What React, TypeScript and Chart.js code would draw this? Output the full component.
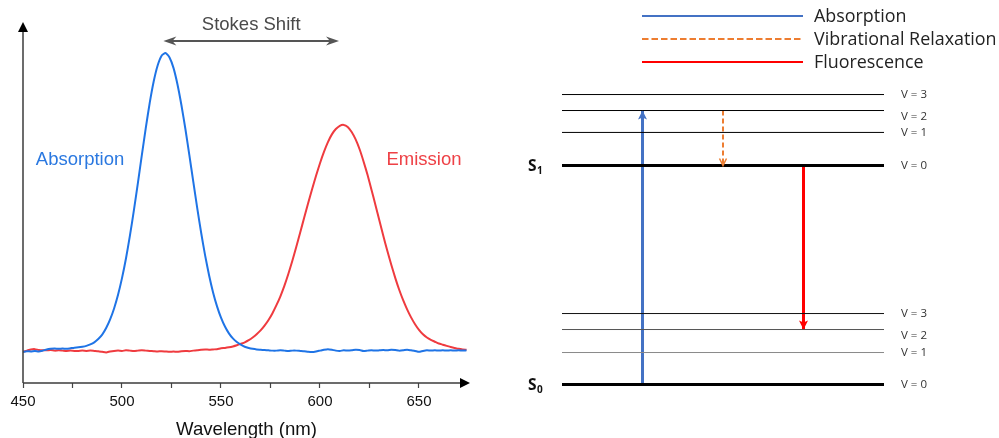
import React, { useEffect, useRef } from 'react';
import { Chart, registerables } from 'chart.js';

Chart.register(...registerables);

// ---------- Left panel: spectra ----------
const wavelengths = [
  450, 452, 454, 456, 458, 460, 462, 464, 466, 468, 470, 472, 474, 476, 478, 480, 482, 484, 486, 488,
  490, 492, 494, 496, 498, 500, 502, 504, 506, 508, 510, 512, 514, 516, 518, 520, 522, 524, 526, 528,
  530, 532, 534, 536, 538, 540, 542, 544, 546, 548, 550, 552, 554, 556, 558, 560, 562, 564, 566, 568,
  570, 572, 574, 576, 578, 580, 582, 584, 586, 588, 590, 592, 594, 596, 598, 600, 602, 604, 606, 608,
  610, 612, 614, 616, 618, 620, 622, 624, 626, 628, 630, 632, 634, 636, 638, 640, 642, 644, 646, 648,
  650, 652, 654, 656, 658, 660, 662, 664, 666, 668, 670, 672, 674,
];

const absorptionSpectrum = [
  -0.006, -0.004, -0.005, -0.003, -0.005, -0.002, 0.002, 0.004, 0.005, 0.004,
  0.005, 0.004, 0.006, 0.008, 0.009, 0.011, 0.014, 0.019, 0.026, 0.037,
  0.052, 0.074, 0.103, 0.140, 0.186, 0.242, 0.308, 0.385, 0.470, 0.561,
  0.655, 0.747, 0.832, 0.904, 0.958, 0.991, 1.000, 0.985, 0.950, 0.895,
  0.825, 0.745, 0.657, 0.567, 0.478, 0.394, 0.318, 0.251, 0.194, 0.147,
  0.109, 0.079, 0.056, 0.039, 0.027, 0.018, 0.011, 0.007, 0.004, 0.002,
  0.001, 0.000, -0.001, -0.002, -0.002, -0.001, -0.002, -0.003, -0.002, -0.002,
  -0.003, -0.004, -0.006, -0.007, -0.005, -0.002, 0.001, 0.003, 0.001, -0.002,
  -0.003, -0.001, -0.002, -0.001, 0.001, 0.000, -0.003, -0.002, -0.001, -0.002,
  -0.001, 0.000, -0.001, 0.001, 0.000, -0.002, -0.001, 0.001, -0.001, -0.003,
  -0.006, -0.003, -0.001, -0.002, -0.001, -0.002, -0.001, -0.002, -0.001, -0.002,
  -0.001, -0.002, -0.001,
];

const emissionSpectrum = [
  -0.006, -0.002, 0.002, 0.003, 0.000, -0.001, -0.001, 0.000, -0.002, -0.001,
  -0.002, -0.003, -0.002, -0.003, -0.003, -0.002, -0.003, -0.002, -0.003, -0.004,
  -0.006, -0.008, -0.005, -0.003, -0.002, -0.003, -0.001, -0.002, -0.003, -0.002,
  -0.001, -0.002, -0.003, -0.004, -0.005, -0.004, -0.005, -0.006, -0.005, -0.006,
  -0.004, -0.003, -0.004, -0.002, -0.001, 0.001, 0.002, 0.001, 0.002, 0.003,
  0.006, 0.007, 0.009, 0.012, 0.016, 0.021, 0.026, 0.033, 0.042, 0.053,
  0.066, 0.082, 0.101, 0.124, 0.151, 0.181, 0.216, 0.256, 0.300, 0.347,
  0.396, 0.445, 0.494, 0.541, 0.587, 0.629, 0.667, 0.700, 0.726, 0.744,
  0.755, 0.758, 0.751, 0.734, 0.709, 0.676, 0.635, 0.590, 0.540, 0.488,
  0.436, 0.384, 0.334, 0.287, 0.243, 0.203, 0.168, 0.137, 0.110, 0.087,
  0.068, 0.053, 0.042, 0.034, 0.028, 0.022, 0.018, 0.014, 0.010, 0.007,
  0.004, 0.002, 0.001,
];

const xRange = [450, 675.76];
const yRange = [-0.111, 1.1044];
const stokesRange = [520.9, 609.6];
const stokesLevel = 1.0404;
const stokesTextLevel = 1.096;
const curveLabels = [
  { text: 'Absorption', x: 478.8, y: 0.64, color: '#2a78e0' },
  { text: 'Emission', x: 652.5, y: 0.64, color: '#ee4146' },
];

// ---------- Right panel: Jablonski diagram ----------
const groundLevels = [0, 0.146, 0.251, 0.324];
const excitedLevels = [1, 1.151, 1.251, 1.324];
const vibLabels = ['V = 0', 'V = 1', 'V = 2', 'V = 3'];
const stateLabels = [
  { main: 'S', sub: '1', level: 1 },
  { main: 'S', sub: '0', level: 0 },
];
const transitionNames = ['Absorption', 'Vibrational Relaxation', 'Fluorescence'];
const transitionX = [0.25, 0.5, 0.75];
const transitionFrom = [0, 1.251, 1];
const transitionTo = [1.251, 1, 0.251];
const levelXRange = [0, 1];

const FONT_L = '"Liberation Sans", Arial, sans-serif';
const FONT_R = '"Open Sans", sans-serif';

function drawBarbHead(ctx: CanvasRenderingContext2D, tipX: number, tipY: number, dir: number, color: string) {
  const len = 13, half = 4.5, notch = 4;
  ctx.fillStyle = color;
  ctx.beginPath();
  ctx.moveTo(tipX, tipY);
  ctx.lineTo(tipX - dir * len, tipY - half);
  ctx.lineTo(tipX - dir * (len - notch), tipY);
  ctx.lineTo(tipX - dir * len, tipY + half);
  ctx.closePath();
  ctx.fill();
}

const leftDecor = {
  id: 'leftDecor',
  afterDatasetsDraw(chart: any) {
    const { ctx, chartArea, scales } = chart;
    const { left, right, top, bottom } = chartArea;
    const xs = scales.x, ys = scales.y;
    ctx.save();
    ctx.strokeStyle = '#3c3c3c';
    ctx.lineWidth = 1.5;
    ctx.beginPath();
    ctx.moveTo(left, bottom);
    ctx.lineTo(left, top + 8);
    ctx.moveTo(left, bottom);
    ctx.lineTo(right - 8, bottom);
    ctx.stroke();
    ctx.fillStyle = '#000';
    ctx.beginPath();
    ctx.moveTo(left, top);
    ctx.lineTo(left - 5, top + 10);
    ctx.lineTo(left + 5, top + 10);
    ctx.closePath();
    ctx.fill();
    ctx.beginPath();
    ctx.moveTo(right, bottom);
    ctx.lineTo(right - 10, bottom - 5);
    ctx.lineTo(right - 10, bottom + 5);
    ctx.closePath();
    ctx.fill();

    const x1 = xs.getPixelForValue(stokesRange[0]);
    const x2 = xs.getPixelForValue(stokesRange[1]);
    const ya = ys.getPixelForValue(stokesLevel);
    ctx.strokeStyle = '#555';
    ctx.lineWidth = 2;
    ctx.beginPath();
    ctx.moveTo(x1 + 8, ya);
    ctx.lineTo(x2 - 8, ya);
    ctx.stroke();
    drawBarbHead(ctx, x1, ya, -1, '#555');
    drawBarbHead(ctx, x2, ya, 1, '#555');

    ctx.fillStyle = '#4a4a4a';
    ctx.font = `18.5px ${FONT_L}`;
    ctx.textAlign = 'center';
    ctx.textBaseline = 'middle';
    ctx.fillText('Stokes Shift', (x1 + x2) / 2, ys.getPixelForValue(stokesTextLevel));

    for (const l of curveLabels) {
      ctx.fillStyle = l.color;
      ctx.fillText(l.text, xs.getPixelForValue(l.x), ys.getPixelForValue(l.y));
    }
    ctx.restore();
  },
};

const rightDecor = {
  id: 'rightDecor',
  afterDatasetsDraw(chart: any) {
    const { ctx, scales } = chart;
    const xs = scales.x, ys = scales.y;
    ctx.save();

    chart.data.datasets.forEach((ds: any, i: number) => {
      if (!ds.arrow) return;
      const meta = chart.getDatasetMeta(i);
      const pts = meta.data;
      const tip = pts[pts.length - 1];
      const prev = pts[pts.length - 2];
      const dir = tip.y > prev.y ? 1 : -1;
      const len = ds.arrow === 'open' ? 7 : 9;
      const half = ds.arrow === 'open' ? 3.5 : 4.5;
      ctx.setLineDash([]);
      if (ds.arrow === 'open') {
        ctx.strokeStyle = ds.borderColor;
        ctx.lineWidth = 1.5;
        ctx.beginPath();
        ctx.moveTo(tip.x - half, tip.y - dir * len);
        ctx.lineTo(tip.x, tip.y);
        ctx.lineTo(tip.x + half, tip.y - dir * len);
        ctx.stroke();
      } else {
        ctx.fillStyle = ds.borderColor;
        ctx.beginPath();
        ctx.moveTo(tip.x, tip.y);
        ctx.lineTo(tip.x - half, tip.y - dir * len);
        ctx.lineTo(tip.x, tip.y - dir * (len - 2));
        ctx.lineTo(tip.x + half, tip.y - dir * len);
        ctx.closePath();
        ctx.fill();
      }
    });

    const xr = xs.getPixelForValue(levelXRange[1]);
    ctx.font = `11.5px ${FONT_R}`;
    ctx.fillStyle = '#333';
    ctx.textAlign = 'left';
    ctx.textBaseline = 'middle';
    [groundLevels, excitedLevels].forEach((lv) => {
      lv.forEach((e, k) => {
        const off = k === 2 ? 6 : 0;
        ctx.fillText(vibLabels[k], xr + 17, ys.getPixelForValue(e) + off);
      });
    });

    for (const s of stateLabels) {
      const y = ys.getPixelForValue(s.level);
      ctx.fillStyle = '#111';
      ctx.font = `bold 15.5px ${FONT_R}`;
      ctx.fillText(s.main, 28, y + 1);
      ctx.font = `bold 10px ${FONT_R}`;
      ctx.fillText(s.sub, 37, y + 6);
    }

    const legendX = 142, legendW = 161, legendY0 = 16, legendStep = 23;
    chart.data.datasets.forEach((ds: any) => {
      if (!ds.arrow) return;
      const idx = transitionNames.indexOf(ds.label);
      const y = legendY0 + idx * legendStep;
      ctx.strokeStyle = ds.borderColor;
      ctx.lineWidth = 2;
      ctx.setLineDash(ds.borderDash ? [6.5, 3] : []);
      ctx.beginPath();
      ctx.moveTo(legendX, y);
      ctx.lineTo(legendX + legendW, y);
      ctx.stroke();
      ctx.setLineDash([]);
      ctx.fillStyle = '#222';
      ctx.font = `17.9px ${FONT_R}`;
      ctx.textBaseline = 'middle';
      ctx.fillText(ds.label, legendX + legendW + 11, y + 1);
    });
    ctx.restore();
  },
};

function SpectrumChart() {
  const ref = useRef<HTMLCanvasElement>(null);
  useEffect(() => {
    const chart = new Chart(ref.current!, {
      type: 'line',
      data: {
        datasets: [
          {
            label: 'Absorption',
            data: wavelengths.map((w, i) => ({ x: w, y: absorptionSpectrum[i] })),
            borderColor: '#1f74e6',
            borderWidth: 2,
            pointRadius: 0,
            tension: 0.2,
          },
          {
            label: 'Emission',
            data: wavelengths.map((w, i) => ({ x: w, y: emissionSpectrum[i] })),
            borderColor: '#ef3b3f',
            borderWidth: 2,
            pointRadius: 0,
            tension: 0.2,
          },
        ],
      },
      options: {
        responsive: false,
        animation: false,
        layout: { padding: { top: 22, left: 23, right: 30, bottom: 0 } },
        plugins: { legend: { display: false }, tooltip: { enabled: false } },
        scales: {
          x: {
            type: 'linear',
            min: xRange[0],
            max: xRange[1],
            afterFit: (s: any) => { s.height = 55; },
            afterBuildTicks: (s: any) => { s.ticks = s.ticks.filter((t: any) => t.value <= 660); },
            border: { display: false },
            grid: {
              drawOnChartArea: false,
              drawTicks: true,
              tickLength: 5,
              color: '#444',
              tickWidth: 1.2,
            },
            ticks: {
              stepSize: 25,
              includeBounds: false,
              autoSkip: false,
              maxRotation: 0,
              padding: 5,
              color: '#111',
              font: { family: FONT_L, size: 15 },
              callback: (v: any) => (Number(v) % 50 === 0 ? String(v) : ''),
            },
            title: {
              display: true,
              text: 'Wavelength (nm)',
              color: '#111',
              font: { family: FONT_L, size: 18.6 },
              padding: { top: 0, bottom: -3 },
            },
          },
          y: { type: 'linear', display: false, min: yRange[0], max: yRange[1] },
        },
      },
      plugins: [leftDecor],
    });
    return () => chart.destroy();
  }, []);
  return <canvas ref={ref} width={500} height={438} style={{ position: 'absolute', left: 0, top: 0 }} />;
}

function JablonskiChart() {
  const ref = useRef<HTMLCanvasElement>(null);
  useEffect(() => {
    const levelStyle = (isGround: boolean, k: number) => {
      if (k === 0) return { color: '#000', width: 3 };
      if (!isGround) return { color: '#000', width: 1 };
      return { color: ['#000', '#8a8a8a', '#555', '#111'][k], width: 1 };
    };
    const levelSets: any[] = [];
    [groundLevels, excitedLevels].forEach((lv, g) => {
      lv.forEach((e, k) => {
        const st = levelStyle(g === 0, k);
        levelSets.push({
          label: `level-${g}-${k}`,
          data: [{ x: levelXRange[0], y: e }, { x: levelXRange[1], y: e }],
          borderColor: st.color,
          borderWidth: st.width,
          pointRadius: 0,
        });
      });
    });
    const arrowColors = ['#4472c4', '#ed7d31', '#ff0000'];
    const arrowWidths = [3, 2, 3];
    const arrowSets = transitionNames.map((name, i) => ({
      label: name,
      data: [{ x: transitionX[i], y: transitionFrom[i] }, { x: transitionX[i], y: transitionTo[i] }],
      borderColor: arrowColors[i],
      borderWidth: arrowWidths[i],
      borderDash: i === 1 ? [5, 3] : undefined,
      pointRadius: 0,
      arrow: i === 1 ? 'open' : 'filled',
    }));
    const chart = new Chart(ref.current!, {
      type: 'line',
      data: { datasets: [...levelSets, ...arrowSets] as any },
      options: {
        responsive: false,
        animation: false,
        layout: { padding: 0 },
        plugins: { legend: { display: false }, tooltip: { enabled: false } },
        scales: {
          x: { type: 'linear', display: false, min: -0.19255, max: 1.35714 },
          y: { type: 'linear', display: false, min: -0.2443, max: 1.7557 },
        },
      },
      plugins: [rightDecor],
    });
    return () => chart.destroy();
  }, []);
  return <canvas ref={ref} width={499} height={438} style={{ position: 'absolute', left: 500, top: 0 }} />;
}

export default function App() {
  return (
    <div style={{ position: 'fixed', left: 0, top: 0, width: 999, height: 438, background: '#fff', overflow: 'hidden' }}>
      <SpectrumChart />
      <JablonskiChart />
    </div>
  );
}
